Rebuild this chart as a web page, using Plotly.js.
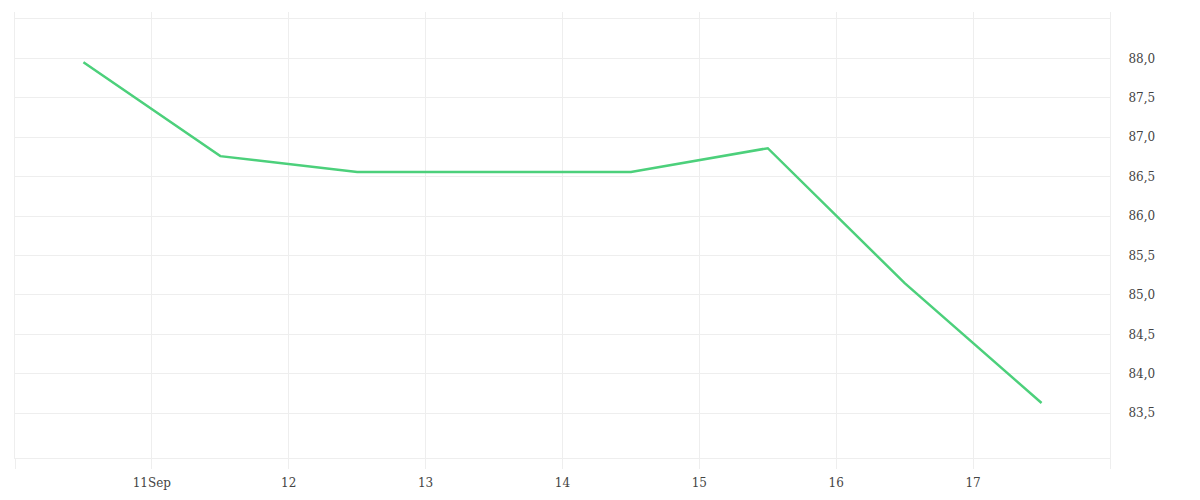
<!DOCTYPE html>
<html>
<head>
<meta charset="utf-8">
<script src="https://cdn.plot.ly/plotly-3.0.1.min.js"></script>
<style>html,body{margin:0;padding:0;background:#fff;}#chart{width:1200px;height:500px;}</style>
</head>
<body>
<div id="chart"></div>
<script>
const dates = ["2024-09-10 12:00","2024-09-11 12:00","2024-09-12 12:00","2024-09-13 12:00","2024-09-14 12:00","2024-09-15 12:00","2024-09-16 12:00","2024-09-17 12:00"];
const values = [87.95, 86.76, 86.56, 86.56, 86.56, 86.86, 85.15, 83.63];
const xTickVals = ["2024-09-10","2024-09-11","2024-09-12","2024-09-13","2024-09-14","2024-09-15","2024-09-16","2024-09-17","2024-09-18"];
const xTickText = ["","11Sep","12","13","14","15","16","17",""];
const yTickVals = [83.5,84.0,84.5,85.0,85.5,86.0,86.5,87.0,87.5,88.0,88.5];
const yTickText = ["83,5","84,0","84,5","85,0","85,5","86,0","86,5","87,0","87,5","88,0",""];
const xRange = ["2024-09-10","2024-09-18"];
const yRange = [82.933, 88.587];

const trace = {
  x: dates, y: values, type: "scatter", mode: "lines",
  line: {color: "#4cd07b", width: 2.5},
  hoverinfo: "x+y"
};
const grid = "#eeeeee";
const txt = "#444444";
const layout = {
  width: 1200, height: 500,
  margin: {l: 15, r: 90, t: 12, b: 42},
  paper_bgcolor: "#ffffff", plot_bgcolor: "#ffffff",
  showlegend: false,
  separators: ",.",
  font: {family: "DejaVu Serif", size: 12, color: txt},
  xaxis: {
    type: "date", range: xRange,
    tickmode: "array", tickvals: xTickVals, ticktext: xTickText,
    showgrid: true, gridcolor: grid, gridwidth: 1,
    ticks: "outside", ticklen: 10, tickcolor: grid, tickwidth: 1,
    showline: true, linecolor: grid, linewidth: 1,
    zeroline: false, ticklabelstandoff: 4,
    tickfont: {family: "DejaVu Serif", size: 12, color: txt}
  },
  yaxis: {
    side: "right", range: yRange,
    tickmode: "array", tickvals: yTickVals, ticktext: yTickText,
    showgrid: true, gridcolor: grid, gridwidth: 1,
    ticks: "", showline: true, mirror: true, linecolor: grid, linewidth: 1,
    zeroline: false, ticklabelstandoff: 15,
    tickfont: {family: "DejaVu Serif", size: 12, color: txt}
  }
};
Plotly.newPlot("chart", [trace], layout, {displayModeBar: false, staticPlot: true});
</script>
</body>
</html>
